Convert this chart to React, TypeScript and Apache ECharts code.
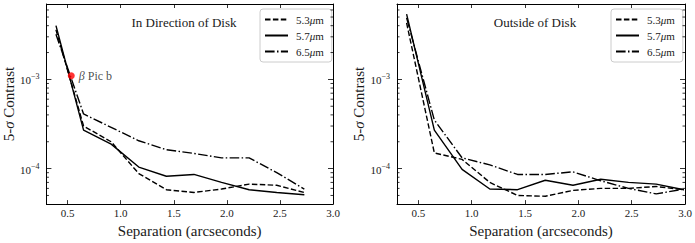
import React, { useEffect, useRef } from 'react';
import * as echarts from 'echarts';

// ---------- data ----------
const wavelengths = ['5.3μm', '5.7μm', '6.5μm'];

const sepInDisk = [0.39, 0.65, 0.91, 1.17, 1.43, 1.69, 1.95, 2.21, 2.47, 2.73];
const inDisk53 = [3.6e-3, 3.0e-4, 2.0e-4, 8.8e-5, 5.8e-5, 5.4e-5, 5.9e-5, 6.7e-5, 6.5e-5, 5.4e-5];
const inDisk57 = [4.0e-3, 2.7e-4, 1.88e-4, 1.04e-4, 8.2e-5, 8.6e-5, 7.0e-5, 5.8e-5, 5.4e-5, 5.1e-5];
const inDisk65 = [3.2e-3, 4.1e-4, 2.9e-4, 2.05e-4, 1.63e-4, 1.48e-4, 1.32e-4, 1.32e-4, 9.0e-5, 5.9e-5];

const sepOutDisk = [0.39, 0.65, 0.91, 1.17, 1.43, 1.69, 1.95, 2.21, 2.47, 2.73, 2.99];
const outDisk53 = [4.3e-3, 1.5e-4, 1.27e-4, 7.0e-5, 5.0e-5, 4.9e-5, 5.7e-5, 6.0e-5, 6.0e-5, 6.3e-5, 5.8e-5];
const outDisk57 = [5.4e-3, 2.7e-4, 9.8e-5, 5.9e-5, 5.8e-5, 7.4e-5, 6.5e-5, 7.6e-5, 7.0e-5, 6.7e-5, 5.8e-5];
const outDisk65 = [4.9e-3, 3.5e-4, 1.32e-4, 1.1e-4, 8.6e-5, 8.6e-5, 9.2e-5, 7.3e-5, 6.0e-5, 5.2e-5, 5.9e-5];

const planetSep = [0.534];
const planetContrast = [1.1e-3];
const planetLabel = 'β Pic b';

const panelTitles = ['In Direction of Disk', 'Outside of Disk'];
const xAxisTitle = 'Separation (arcseconds)';

const xRange = [0.3, 3.0];
const yRange = [4e-5, 7e-3];
const minorTickValues = [
  5e-5, 6e-5, 7e-5, 8e-5, 9e-5,
  2e-4, 3e-4, 4e-4, 5e-4, 6e-4, 7e-4, 8e-4, 9e-4,
  2e-3, 3e-3, 4e-3, 5e-3, 6e-3,
];

// ---------- styles ----------
const FONT = "'Liberation Serif', 'DejaVu Serif', serif";
const INK = '#1a1a1a';
const dashStyles: any[] = [[5.5, 2.4], 'solid', [9.6, 2.4, 1.5, 2.4]];

const pair = (xs: number[], ys: number[]) => xs.map((x, i) => [x, ys[i]]);

export default function App() {
  const ref = useRef<HTMLDivElement>(null);

  useEffect(() => {
    if (!ref.current) return;
    const chart = echarts.init(ref.current, undefined, { renderer: 'svg' });

    const grids = [
      { left: 45, top: 4, width: 288, height: 205 },
      { left: 397, top: 4, width: 288, height: 205 },
    ];

    const xAxes: any[] = [];
    const yAxes: any[] = [];
    grids.forEach((_, g) => {
      const base = {
        gridIndex: g,
        type: 'value',
        min: xRange[0],
        max: xRange[1],
        axisLine: { show: true, onZero: false, lineStyle: { color: '#000', width: 1 } },
        axisTick: { show: true, inside: true, length: 4, lineStyle: { color: '#000', width: 0.8 } },
        splitLine: { show: false },
      };
      xAxes.push({
        ...base,
        position: 'bottom',
        name: xAxisTitle,
        nameLocation: 'middle',
        nameGap: 16,
        nameTextStyle: { fontFamily: FONT, fontSize: 15, color: INK },
        axisLabel: {
          margin: 3,
          fontFamily: FONT,
          fontSize: 11,
          color: INK,
          formatter: (v: number) =>
            Math.abs(v * 2 - Math.round(v * 2)) < 1e-6 ? v.toFixed(1) : '',
        },
      });
      xAxes.push({ ...base, position: 'top', axisLabel: { show: false } });

      const ybase = {
        gridIndex: g,
        type: 'log',
        logBase: 10,
        min: yRange[0],
        max: yRange[1],
        axisLine: { show: true, lineStyle: { color: '#000', width: 1 } },
        axisTick: { show: true, inside: true, length: 5, lineStyle: { color: '#000', width: 0.8 } },
        splitLine: { show: false },
      };
      yAxes.push({
        ...ybase,
        position: 'left',
        name: '5-{i|σ} Contrast',
        nameLocation: 'middle',
        nameGap: 30,
        nameTextStyle: {
          fontFamily: FONT,
          fontSize: 15,
          color: INK,
          rich: { i: { fontFamily: FONT, fontSize: 15, color: INK, fontStyle: 'italic' } },
        },
        axisLabel: {
          margin: 7,
          formatter: (v: number) => {
            const l = Math.log10(v);
            const e = Math.round(l);
            return Math.abs(l - e) < 1e-6 ? `{b|10}{s|−${-e}}` : '';
          },
          rich: {
            b: { fontFamily: FONT, fontSize: 11, color: INK, verticalAlign: 'bottom' },
            s: { fontFamily: FONT, fontSize: 8, color: INK, verticalAlign: 'bottom', padding: [0, 0, 5, 0] },
          },
        },
      });
      yAxes.push({ ...ybase, position: 'right', axisLabel: { show: false } });
    });

    const lineSeries = (g: number, name: string, xs: number[], ys: number[], k: number) => ({
      type: 'line',
      name,
      xAxisIndex: g * 2,
      yAxisIndex: g * 2,
      data: pair(xs, ys),
      symbol: 'none',
      showSymbol: false,
      lineStyle: { color: '#000', width: 1.4, type: dashStyles[k] },
      itemStyle: { color: '#000' },
      z: 3,
    });

    const minorSeries = (g: number) => ({
      type: 'custom',
      name: 'minor' + g,
      xAxisIndex: g * 2,
      yAxisIndex: g * 2,
      silent: true,
      data: minorTickValues.map((v) => [1, v]),
      renderItem: (params: any, api: any) => {
        const pt = api.coord([api.value(0), api.value(1)]);
        const cs = params.coordSys;
        const st = { stroke: '#000', lineWidth: 0.8 };
        return {
          type: 'group',
          children: [
            { type: 'line', shape: { x1: cs.x, y1: pt[1], x2: cs.x + 2.5, y2: pt[1] }, style: st },
            { type: 'line', shape: { x1: cs.x + cs.width - 2.5, y1: pt[1], x2: cs.x + cs.width, y2: pt[1] }, style: st },
          ],
        };
      },
      z: 5,
    });

    const legendBase = (left: number) => ({
      left,
      top: 9,
      orient: 'vertical',
      data: wavelengths,
      itemWidth: 23,
      itemHeight: 10,
      itemGap: 5,
      padding: [5, 8, 5, 4],
      borderColor: '#cccccc',
      borderWidth: 1,
      borderRadius: 3,
      backgroundColor: '#fff',
      itemStyle: { color: 'rgba(0,0,0,0)', borderWidth: 0, opacity: 0 },
      textStyle: {
        fontFamily: FONT,
        fontSize: 11,
        color: INK,
        padding: [0, 0, 0, 3],
        rich: { i: { fontFamily: FONT, fontSize: 11, color: INK, fontStyle: 'italic' } },
      },
      formatter: (n: string) => n.replace('μ', '{i|μ}'),
    });

    chart.setOption({
      animation: false,
      backgroundColor: '#fff',
      grid: grids,
      xAxis: xAxes,
      yAxis: yAxes,
      legend: [legendBase(260), legendBase(611)],
      graphic: [
        { type: 'text', x: 184, y: 22, style: { text: panelTitles[0], fontFamily: FONT, fontSize: 13, fill: INK, align: 'center', verticalAlign: 'middle' } },
        { type: 'text', x: 535, y: 22, style: { text: panelTitles[1], fontFamily: FONT, fontSize: 13, fill: INK, align: 'center', verticalAlign: 'middle' } },
      ],
      series: [
        lineSeries(0, wavelengths[0], sepInDisk, inDisk53, 0),
        lineSeries(0, wavelengths[1], sepInDisk, inDisk57, 1),
        lineSeries(0, wavelengths[2], sepInDisk, inDisk65, 2),
        lineSeries(1, wavelengths[0], sepOutDisk, outDisk53, 0),
        lineSeries(1, wavelengths[1], sepOutDisk, outDisk57, 1),
        lineSeries(1, wavelengths[2], sepOutDisk, outDisk65, 2),
        minorSeries(0),
        minorSeries(1),
        {
          type: 'scatter',
          name: planetLabel,
          xAxisIndex: 0,
          yAxisIndex: 0,
          data: pair(planetSep, planetContrast),
          symbolSize: 7,
          itemStyle: { color: '#ff0000' },
          z: 6,
          label: {
            show: true,
            position: 'right',
            distance: 4,
            formatter: () => '{i|β} Pic b',
            fontFamily: FONT,
            fontSize: 12,
            color: INK,
            rich: { i: { fontFamily: FONT, fontSize: 12, color: INK, fontStyle: 'italic' } },
          },
        },
      ],
    });

    return () => chart.dispose();
  }, []);

  return (
    <div
      ref={ref}
      style={{ position: 'absolute', left: 0, top: 0, width: 695, height: 243 }}
    />
  );
}
